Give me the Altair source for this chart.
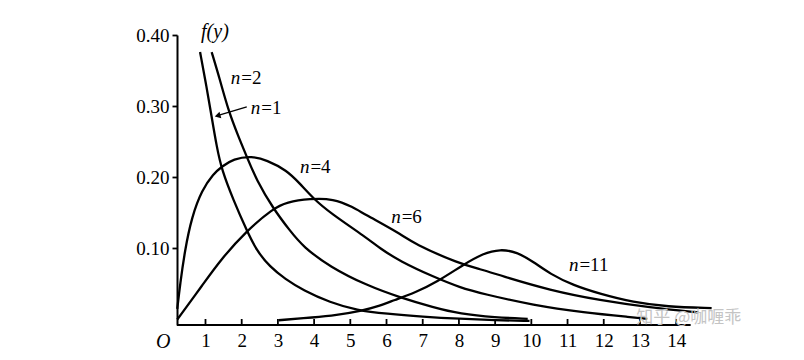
import altair as alt
import pandas as pd

# ---- data ----
n1_x = [0.85, 1.03, 1.17, 1.31, 1.45, 1.77, 2.14, 2.41, 2.78, 3.2, 3.7, 4.44, 5.18, 6.0, 7.0, 8.03, 9.0, 9.95]
n1_f = [0.376, 0.327, 0.285, 0.243, 0.210, 0.168, 0.125, 0.097, 0.074, 0.057, 0.041, 0.024, 0.013, 0.008, 0.004, 0.001, -0.001, -0.002]

n2_x = [1.17, 1.40, 1.63, 1.91, 2.14, 2.41, 2.87, 3.33, 3.7, 4.44, 5.45, 6.37, 7.30, 8.03, 9.0, 9.9]
n2_f = [0.376, 0.337, 0.294, 0.257, 0.229, 0.196, 0.156, 0.125, 0.102, 0.074, 0.048, 0.031, 0.017, 0.008, 0.003, 0.001]

n4_x = [0.22, 0.30, 0.43, 0.62, 0.90, 1.22, 1.45, 1.77, 2.28, 2.69, 3.24, 3.61, 3.98, 4.44, 5.45, 5.82, 6.37, 7.3, 8.03, 8.67, 10.06, 11.44, 12.82, 13.2]
n4_f = [0.015, 0.050, 0.097, 0.144, 0.182, 0.205, 0.215, 0.226, 0.230, 0.224, 0.210, 0.191, 0.170, 0.150, 0.115, 0.100, 0.082, 0.060, 0.045, 0.036, 0.020, 0.010, 0.003, 0.001]

n6_x = [0.22, 0.94, 1.40, 2.14, 2.87, 3.24, 3.89, 4.53, 5.08, 5.36, 6.37, 6.74, 8.03, 8.58, 9.14, 10.52, 11.9, 13.28, 14.61]
n6_f = [0.000, 0.050, 0.083, 0.125, 0.156, 0.165, 0.170, 0.170, 0.158, 0.149, 0.121, 0.107, 0.078, 0.071, 0.062, 0.041, 0.027, 0.017, 0.010]

n11_x = [3.02, 4.0, 4.6, 5.3, 5.8, 6.2, 6.8, 7.4, 8.12, 8.67, 9.14, 9.6, 10.06, 10.52, 11.16, 11.9, 12.82, 13.74, 14.98]
n11_f = [-0.001, 0.003, 0.006, 0.012, 0.019, 0.027, 0.038, 0.053, 0.077, 0.093, 0.099, 0.095, 0.081, 0.064, 0.048, 0.036, 0.024, 0.018, 0.016]

series_names = ["1", "2", "4", "6", "11"]
series_x = [n1_x, n2_x, n4_x, n6_x, n11_x]
series_f = [n1_f, n2_f, n4_f, n6_f, n11_f]

# curve labels: anchor between italic "n" and "=k"
label_n = ["1", "2", "4", "6", "11"]
label_x = [2.51, 1.96, 3.87, 6.39, 11.30]
label_f = [0.298, 0.340, 0.215, 0.144, 0.076]

x_ticks = list(range(1, 15))
y_ticks = [0.1, 0.2, 0.3, 0.4]

# ---- build tables ----
rows = []
for name, xs, fs in zip(series_names, series_x, series_f):
    for x, f in zip(xs, fs):
        rows.append({"x": x, "f": f, "n": name})
curves = pd.DataFrame(rows)
labels = pd.DataFrame({"x": label_x, "f": label_f, "rest": ["=" + k for k in label_n], "n": ["n"] * len(label_n)})
ticks_df = pd.DataFrame({"x": x_ticks})

SERIF = "Liberation Serif"
xscale = alt.Scale(domain=[0.213, 14.99], nice=False, zero=False)
yscale = alt.Scale(domain=[-0.0077, 0.40], nice=False, zero=False)

ax_x = alt.Axis(values=x_ticks, domain=False, ticks=False, grid=False,
                labelFont=SERIF, labelFontSize=19, labelColor="black",
                labelPadding=6, labelOverlap=False, labelFlush=False, title=None)
ax_y = alt.Axis(values=y_ticks, format=".2f", grid=False, domainColor="black",
                domainWidth=2, tickColor="black", tickSize=5, tickWidth=1.8,
                labelFont=SERIF, labelFontSize=19, labelColor="black",
                labelPadding=3, title=None)


def X(field):
    return alt.X(field, scale=xscale, axis=ax_x)


def Y(field):
    return alt.Y(field, scale=yscale, axis=ax_y)


lines = alt.Chart(curves).mark_line(color="black", strokeWidth=2.3, interpolate="basis", clip=False).encode(
    x=X("x:Q"), y=Y("f:Q"), detail="n:N")

xaxis_line = alt.Chart(pd.DataFrame({"a": [0.213], "b": [14.4]})).mark_rule(color="black", strokeWidth=2).encode(
    x=X("a:Q"), x2="b:Q", y=alt.value(290))

xticks = alt.Chart(ticks_df).mark_rule(color="black", strokeWidth=1.8).encode(
    x=X("x:Q"), y=alt.value(290), y2=alt.value(284))

n_text = alt.Chart(labels).mark_text(font=SERIF, fontStyle="italic", fontSize=19, align="right",
                                     baseline="middle", color="black").encode(
    x=X("x:Q"), y=Y("f:Q"), text="n:N")
rest_text = alt.Chart(labels).mark_text(font=SERIF, fontSize=19, align="left", dx=1,
                                        baseline="middle", color="black").encode(
    x=X("x:Q"), y=Y("f:Q"), text="rest:N")

arrow_line = alt.Chart(pd.DataFrame({"a": [2.14], "b": [1.33], "fa": [0.299], "fb": [0.2865]})).mark_rule(
    color="black", strokeWidth=1.3).encode(
    x=X("a:Q"), x2="b:Q", y=Y("fa:Q"), y2="fb:Q")
arrow_head = alt.Chart(pd.DataFrame({"x": [1.36], "f": [0.2868]})).mark_point(
    shape="triangle", angle=254, size=45, filled=True, color="black", opacity=1).encode(
    x=X("x:Q"), y=Y("f:Q"))

misc = pd.DataFrame({"x": [1.26, -0.17], "f": [0.404, -0.032], "t": ["f(y)", "O"]})
misc_text = alt.Chart(misc).mark_text(font=SERIF, fontStyle="italic", fontSize=20, align="center",
                                      baseline="middle", color="black").encode(
    x=X("x:Q"), y=Y("f:Q"), text="t:N")

wm = alt.Chart(pd.DataFrame({"x": [12.9], "f": [0.002], "t": ["知乎 @咖喱乖"]})).mark_text(
    font="Noto Sans CJK SC", fontSize=17, align="left", baseline="middle", color="#c4c4c4").encode(
    x=X("x:Q"), y=Y("f:Q"), text="t:N")

chart = alt.layer(lines, xaxis_line, xticks, arrow_line, arrow_head, n_text, rest_text, misc_text, wm).properties(
    width=535, height=290,
    autosize=alt.AutoSizeParams(type="none"),
    padding={"left": 177, "top": 35, "right": 92, "bottom": 35},
    background="white",
).configure_view(stroke=None)

chart.save("out.html", embed_options={"renderer": "svg", "actions": False})
